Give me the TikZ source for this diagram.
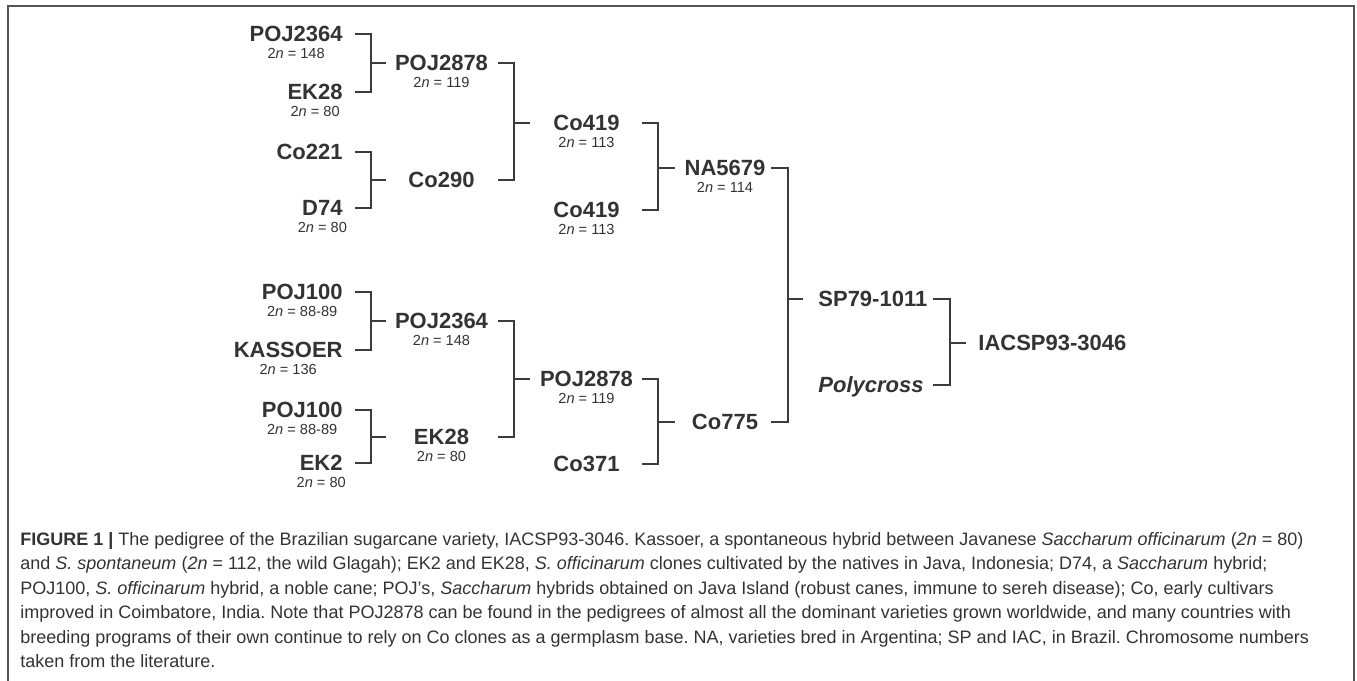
\documentclass[tikz,border=0pt]{standalone}
\usepackage{fontspec}
\setmainfont{Liberation Sans}
\newfontfamily\capfont{Liberation Sans}
\usetikzlibrary{positioning,calc}

\definecolor{inkgray}{HTML}{333333}
\definecolor{linegray}{HTML}{3C3C3C}
\definecolor{framegray}{HTML}{555555}

\tikzset{
  clone/.style={font=\bfseries\fontsize{11}{11}\selectfont, text=inkgray,
    inner sep=0pt, text height=7.9pt, text depth=0pt},
  chrom/.style={font=\fontsize{7.3}{7.3}\selectfont, text=inkgray,
    inner sep=0pt, text height=5.2pt, text depth=0pt, below=2.8pt of #1},
  link/.style={draw=linegray, line width=1pt},
  caption/.style={font=\capfont\fontsize{9}{12.2}\selectfont\frenchspacing, text=inkgray,
    inner sep=0pt, align=left, anchor=north west}
}

% cross: parent 1, parent 2, offspring, stub x, bar x, end x
\newcommand{\cross}[6]{%
  \draw[link] (#4,0 |- #1) -- (#5,0 |- #1) -- (#5,0 |- #2) -- (#4,0 |- #2);
  \draw[link] (#5,0 |- #3) -- (#6,0 |- #3);
}

\begin{document}
\begin{tikzpicture}[x=0.5pt, y=-0.5pt]
    \useasboundingbox (0,0) rectangle (1357,681);
    % Draw the frame
    \draw[framegray, line width=0.75pt] (8,681) -- (8,6) -- (1354,6) -- (1354,681);
    % columns
    \def\ca{343}
    \def\cb{441.5}
    \def\cc{586.5}
    \def\cd{725}
    \def\ce{818}
    \def\cf{978}
    % Grandparents
    \node[clone, anchor=east] (a1) at (\ca,34) {POJ2364};
    \node[chrom=a1] (a1n) {2\textit{n} = 148};
    \node[clone, anchor=east] (a2) at (\ca,92) {EK28};
    \node[chrom=a2] (a2n) {2\textit{n} = 80};
    \node[clone, anchor=east] (a3) at (\ca,152) {Co221};
    \node[clone, anchor=east] (a4) at (\ca,208) {D74};
    \node[chrom=a4] (a4n) {2\textit{n} = 80};
    \node[clone, anchor=east] (a5) at (\ca,292) {POJ100};
    \node[chrom=a5] (a5n) {2\textit{n} = 88-89};
    \node[clone, anchor=east] (a6) at (\ca,350) {KASSOER};
    \node[chrom=a6] (a6n) {2\textit{n} = 136};
    \node[clone, anchor=east] (a7) at (\ca,410) {POJ100};
    \node[chrom=a7] (a7n) {2\textit{n} = 88-89};
    \node[clone, anchor=east] (a8) at (\ca,463) {EK2};
    \node[chrom=a8] (a8n) {2\textit{n} = 80};
    % Second generation
    \node[clone] (b1) at (\cb,63) {POJ2878};
    \node[chrom=b1] (b1n) {2\textit{n} = 119};
    \node[clone] (b2) at (\cb,180) {Co290};
    \node[clone] (b3) at (\cb,321) {POJ2364};
    \node[chrom=b3] (b3n) {2\textit{n} = 148};
    \node[clone] (b4) at (\cb,437) {EK28};
    \node[chrom=b4] (b4n) {2\textit{n} = 80};
    % Third generation
    \node[clone] (c1) at (\cc,123) {Co419};
    \node[chrom=c1] (c1n) {2\textit{n} = 113};
    \node[clone] (c2) at (\cc,210) {Co419};
    \node[chrom=c2] (c2n) {2\textit{n} = 113};
    \node[clone] (c3) at (\cc,379) {POJ2878};
    \node[chrom=c3] (c3n) {2\textit{n} = 119};
    \node[clone] (c4) at (\cc,464) {Co371};
    % Fourth generation
    \node[clone] (d1) at (\cd,168) {NA5679};
    \node[chrom=d1] (d1n) {2\textit{n} = 114};
    \node[clone] (d2) at (\cd,422) {Co775};
    % Parents and variety
    \node[clone, anchor=west] (e1) at (\ce,299) {SP79-1011};
    \node[clone, anchor=west] (e2) at (\ce,385) {\itshape Polycross};
    \node[clone, anchor=west] (f1) at (\cf,343) {IACSP93-3046};
    % Draw the crosses
    \cross{a1}{a2}{b1}{355}{371}{386}
    \cross{a3}{a4}{b2}{355}{371}{386}
    \cross{a5}{a6}{b3}{355}{371}{386}
    \cross{a7}{a8}{b4}{355}{371}{386}
    \cross{b1}{b2}{c1}{498}{514}{530}
    \cross{b3}{b4}{c3}{498}{514}{530}
    \cross{c1}{c2}{d1}{642}{658}{675}
    \cross{c3}{c4}{d2}{642}{658}{675}
    \cross{d1}{d2}{e1}{771}{788}{803}
    \cross{e1}{e2}{f1}{933}{950}{966}
    % caption
    \node[caption] (cap) at (20,532) {\textbf{FIGURE 1 |} The pedigree of the Brazilian sugarcane variety, IACSP93-3046. Kassoer, a spontaneous hybrid between Javanese \textit{Saccharum officinarum} (\textit{2n} = 80)\\
and \textit{S. spontaneum} (\textit{2n} = 112, the wild Glagah); EK2 and EK28, \textit{S. officinarum} clones cultivated by the natives in Java, Indonesia; D74, a \textit{Saccharum} hybrid;\\
POJ100, \textit{S. officinarum} hybrid, a noble cane; POJ’s, \textit{Saccharum} hybrids obtained on Java Island (robust canes, immune to sereh disease); Co, early cultivars\\
improved in Coimbatore, India. Note that POJ2878 can be found in the pedigrees of almost all the dominant varieties grown worldwide, and many countries with\\
breeding programs of their own continue to rely on Co clones as a germplasm base. NA, varieties bred in Argentina; SP and IAC, in Brazil. Chromosome numbers\\
taken from the literature.};
\end{tikzpicture}
\end{document}
